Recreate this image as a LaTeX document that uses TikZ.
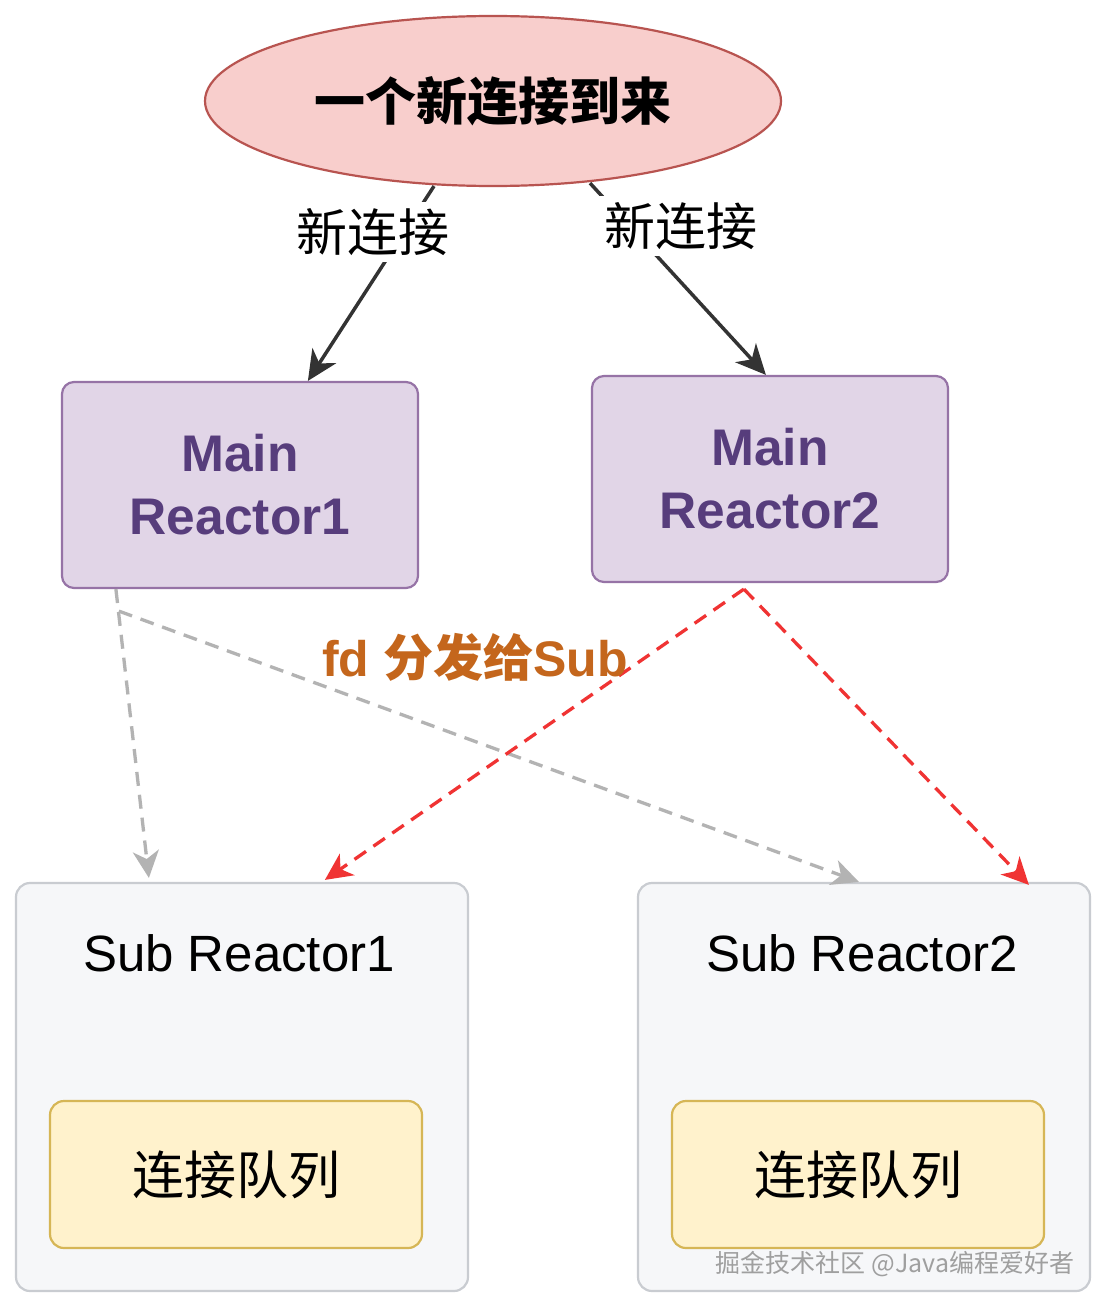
\documentclass[tikz,border=0pt]{standalone}
\usepackage{fontspec}
\setmainfont{Liberation Sans}
\newfontfamily\cjk{Noto Sans CJK SC}
\usetikzlibrary{shapes.geometric,arrows.meta,calc}
\definecolor{ellfill}{HTML}{F8CECC}
\definecolor{elldraw}{HTML}{B85450}
\definecolor{mainfill}{HTML}{E1D5E7}
\definecolor{maindraw}{HTML}{9673A6}
\definecolor{maintext}{HTML}{573D7C}
\definecolor{subfill}{HTML}{F6F7F9}
\definecolor{subdraw}{HTML}{C9CCD1}
\definecolor{qfill}{HTML}{FFF2CC}
\definecolor{qdraw}{HTML}{D6B656}
\definecolor{fdtext}{HTML}{C4661C}
\definecolor{darkline}{HTML}{333333}
\definecolor{grayline}{HTML}{B3B3B3}
\definecolor{redline}{HTML}{F03333}
\tikzset{
  mainbox/.style={draw=maindraw, fill=mainfill, line width=2.2pt, rounded corners=12pt,
    minimum width=356pt, minimum height=206pt, align=center, text=maintext,
    font=\fontsize{51.5}{63}\selectfont\bfseries},
  subbox/.style={draw=subdraw, fill=subfill, line width=2.2pt, rounded corners=14pt,
    minimum width=452pt, minimum height=408pt},
  qbox/.style={draw=qdraw, fill=qfill, line width=2.2pt, rounded corners=14pt,
    minimum width=372pt, minimum height=147pt, font=\cjk\fontsize{52}{60}\selectfont},
  sublabel/.style={font=\fontsize{51}{60}\selectfont, inner sep=0pt},
  edgelabel/.style={fill=white, inner sep=6pt, font=\cjk\fontsize{51}{60}\selectfont},
  solidarrow/.style={draw=darkline, line width=3.5pt, -{Stealth[length=30pt,width=28pt,inset=9pt]}},
  grayarrow/.style={draw=grayline, line width=3.3pt, dash pattern=on 14pt off 9pt, -{Stealth[length=27pt,width=26pt,inset=8pt]}},
  redarrow/.style={draw=redline, line width=3.3pt, dash pattern=on 14pt off 9pt, -{Stealth[length=27pt,width=26pt,inset=8pt]}},
}
\begin{document}
\begin{tikzpicture}[x=1pt,y=-1pt]
\useasboundingbox[fill=white] (0,0) rectangle (1109,1311);

% top ellipse
\node[ellipse, draw=elldraw, fill=ellfill, line width=2.2pt, minimum width=576pt, minimum height=170pt, inner sep=0pt,
  font=\cjk\fontsize{51}{60}\selectfont\bfseries] (ell) at (493,101) {一个新连接到来};

% main reactors
\node[mainbox] (m1) at (240,485) {Main\\Reactor1};
\node[mainbox] (m2) at (770,479) {Main\\Reactor2};

% sub reactors
\node[subbox] (s1) at (242,1087) {};
\node[subbox] (s2) at (864,1087) {};
\node[sublabel] (s1t) at (239,953) {Sub Reactor1};
\node[sublabel] (s2t) at (862,953) {Sub Reactor2};
\node[qbox] (q1) at (236,1174.5) {连接队列};
\node[qbox] (q2) at (858,1174.5) {连接队列};

% anchor points
\coordinate (e1) at ($(ell.south)+(-59,-1)$);
\coordinate (e2) at ($(ell.south)+(97,-4)$);
\coordinate (m1in) at ($(m1.north west)+(247,0)$);
\coordinate (m2in) at ($(m2.north west)+(175,0)$);
\coordinate (m1out) at ($(m1.south west)+(55,0)$);
\coordinate (m1out2) at ($(m1.south west)+(58,22)$);
\coordinate (m2out) at ($(m2.south west)+(153,6)$);
\coordinate (s1a) at ($(s1.north west)+(134,-4)$);
\coordinate (s1b) at ($(s1.north west)+(310,-2)$);
\coordinate (s2a) at ($(s2.north west)+(222,0)$);
\coordinate (s2b) at ($(s2.north west)+(392,3)$);

% black arrows with labels
\draw[solidarrow] (e1) -- (m1in);
\draw[solidarrow] (e2) -- (m2in);
\node[edgelabel] (l1) at (373,232) {新连接};
\node[edgelabel] (l2) at (681,226) {新连接};

% dashed dispatch arrows
\draw[grayarrow] (m1out) -- (s1a);
\draw[grayarrow] (m1out2) -- (s2a);
\draw[redarrow] (m2out) -- (s1b);
\draw[redarrow] (m2out) -- (s2b);

% dispatch label
\node[text=fdtext, inner sep=0pt, font=\fontsize{50}{58}\selectfont\bfseries] (fd) at (475,657)
  {fd {\cjk 分发给}Sub};

% watermark
\node[text=gray!75, inner sep=0pt, font=\cjk\fontsize{25}{30}\selectfont] (wm) at (895,1264)
  {掘金技术社区 @Java编程爱好者};
\end{tikzpicture}
\end{document}
